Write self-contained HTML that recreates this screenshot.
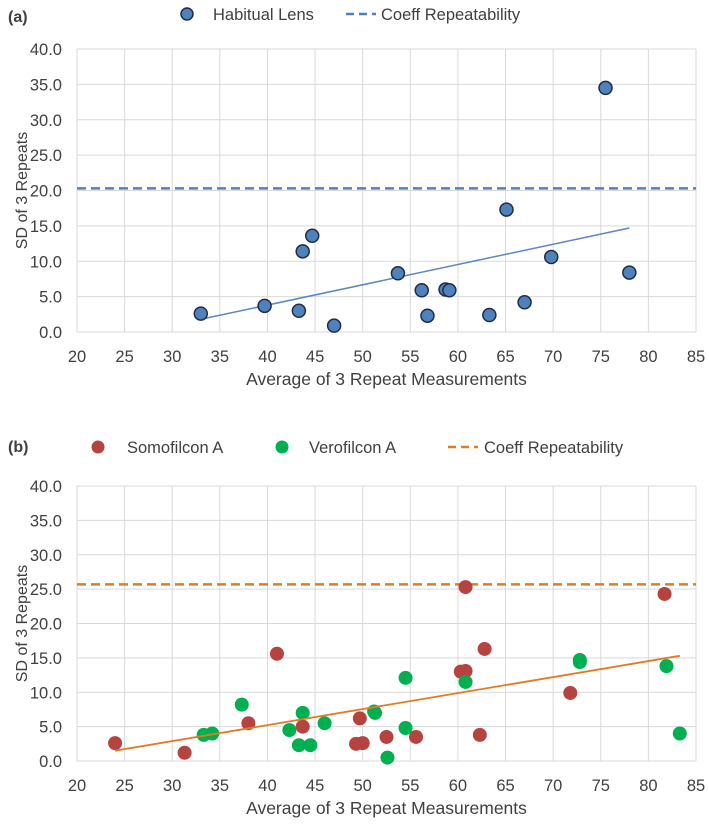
<!DOCTYPE html>
<html><head><meta charset="utf-8"><style>
body{margin:0;background:#fff;font-family:"Liberation Sans",sans-serif}
svg text{font-family:"Liberation Sans",sans-serif;fill:#404040}
</style></head><body>
<svg id="c" width="709" height="828"></svg>
<script>
const xTicks=[20,25,30,35,40,45,50,55,60,65,70,75,80,85];
const yTicks=[0,5,10,15,20,25,30,35,40];
const habX=[33,39.7,43.3,43.7,44.7,47,53.7,56.2,56.8,58.7,59.1,63.3,65.1,67,69.8,75.5,78];
const habY=[2.6,3.7,3.0,11.4,13.6,0.9,8.3,5.9,2.3,6.0,5.9,2.4,17.3,4.2,10.6,34.5,8.4];
const habCoeff=20.3;
const habTrend=[[33,1.8],[78,14.7]];
const somoX=[24,31.3,38,41,43.7,49.3,49.7,50,52.5,55.6,60.3,60.8,60.8,62.3,62.8,71.8,81.7];
const somoY=[2.6,1.2,5.5,15.6,5.0,2.5,6.2,2.6,3.5,3.5,13.0,25.3,13.1,3.8,16.3,9.9,24.3];
const veroX=[33.3,34.2,37.3,42.3,43.3,43.7,44.5,46,51.2,51.3,52.6,54.5,54.5,60.8,72.8,72.8,81.9,83.3];
const veroY=[3.8,4.0,8.2,4.5,2.3,7.0,2.3,5.5,7.2,7.0,0.5,12.1,4.8,11.5,14.4,14.7,13.8,4.0];
const bCoeff=25.7;
const bTrend=[[24,1.5],[83.3,15.3]];
const NS='http://www.w3.org/2000/svg';
const svg=document.getElementById('c');
function el(t,a,txt){const e=document.createElementNS(NS,t);for(const k in a)e.setAttribute(k,a[k]);if(txt!=null)e.textContent=txt;svg.appendChild(e);return e;}
function panel(top,bottom,id){
  const L=77,R=696;
  const sx=v=>L+(v-20)/65*(R-L);
  const sy=v=>bottom-v/40*(bottom-top);
  xTicks.forEach(t=>{const g=el('line',{x1:sx(t),x2:sx(t),y1:top,y2:bottom,stroke:'#d9d9d9','stroke-width':1});
    
    const tx=el('text',{x:sx(t),y:bottom+30,'text-anchor':'middle','font-size':16.5},t);
    });
  yTicks.forEach(t=>{const g=el('line',{x1:L,x2:R,y1:sy(t),y2:sy(t),stroke:'#d9d9d9','stroke-width':1});
    
    const tx=el('text',{x:L-15,y:sy(t)+6,'text-anchor':'end','font-size':16.5},t.toFixed(1));
    });
  const yt=el('text',{x:0,y:0,'text-anchor':'middle','font-size':16,transform:`translate(27,${(top+bottom)/2}) rotate(-90)`},'SD of 3 Repeats');
  
  const xt=el('text',{x:(L+R)/2,y:bottom+53,'text-anchor':'middle','font-size':17.5},'Average of 3 Repeat Measurements');
  
  return {sx,sy,L,R};
}
// panel a
let A=panel(49,332,'a');
let l=el('line',{x1:A.L,x2:A.R,y1:A.sy(habCoeff),y2:A.sy(habCoeff),stroke:'#4f81bd','stroke-width':2.5,'stroke-dasharray':'9,5'});

l=el('line',{x1:A.sx(habTrend[0][0]),y1:A.sy(habTrend[0][1]),x2:A.sx(habTrend[1][0]),y2:A.sy(habTrend[1][1]),stroke:'#5b86c0','stroke-width':1.5});

habX.forEach((x,i)=>{const c=el('circle',{cx:A.sx(x),cy:A.sy(habY[i]),r:6.5,fill:'#4f81bd',stroke:'#1f2d44','stroke-width':1.5});
  });
let t=el('text',{x:8,y:22,'font-size':16,'font-weight':'bold',fill:'#000'},'(a)');
let c=el('circle',{cx:187,cy:14,r:6,fill:'#4f81bd',stroke:'#1f2d44','stroke-width':1.5});
t=el('text',{x:213,y:20,'font-size':16.5},'Habitual Lens');
l=el('line',{x1:346,x2:376,y1:14,y2:14,stroke:'#4f81bd','stroke-width':2.5,'stroke-dasharray':'8,5'});
t=el('text',{x:381,y:20,'font-size':16.5},'Coeff Repeatability');
// panel b
let B=panel(486,761,'b');
l=el('line',{x1:B.L,x2:B.R,y1:B.sy(bCoeff),y2:B.sy(bCoeff),stroke:'#e07b24','stroke-width':2.5,'stroke-dasharray':'9,5'});

somoX.forEach((x,i)=>{const c=el('circle',{cx:B.sx(x),cy:B.sy(somoY[i]),r:7,fill:'#b5433f'});
  });
veroX.forEach((x,i)=>{const c=el('circle',{cx:B.sx(x),cy:B.sy(veroY[i]),r:7,fill:'#00b050'});
  });
l=el('line',{x1:B.sx(bTrend[0][0]),y1:B.sy(bTrend[0][1]),x2:B.sx(bTrend[1][0]),y2:B.sy(bTrend[1][1]),stroke:'#e07b24','stroke-width':1.8});

t=el('text',{x:8,y:452,'font-size':16,'font-weight':'bold',fill:'#000'},'(b)');
c=el('circle',{cx:98,cy:447,r:6.5,fill:'#b5433f'});
t=el('text',{x:127,y:453,'font-size':16.5},'Somofilcon A');
c=el('circle',{cx:282,cy:447,r:6.5,fill:'#00b050'});
t=el('text',{x:309,y:453,'font-size':16.5},'Verofilcon A');
l=el('line',{x1:448,x2:478,y1:447,y2:447,stroke:'#e07b24','stroke-width':2.5,'stroke-dasharray':'8,5'});
t=el('text',{x:484,y:453,'font-size':16.5},'Coeff Repeatability');
</script>
</body></html>
